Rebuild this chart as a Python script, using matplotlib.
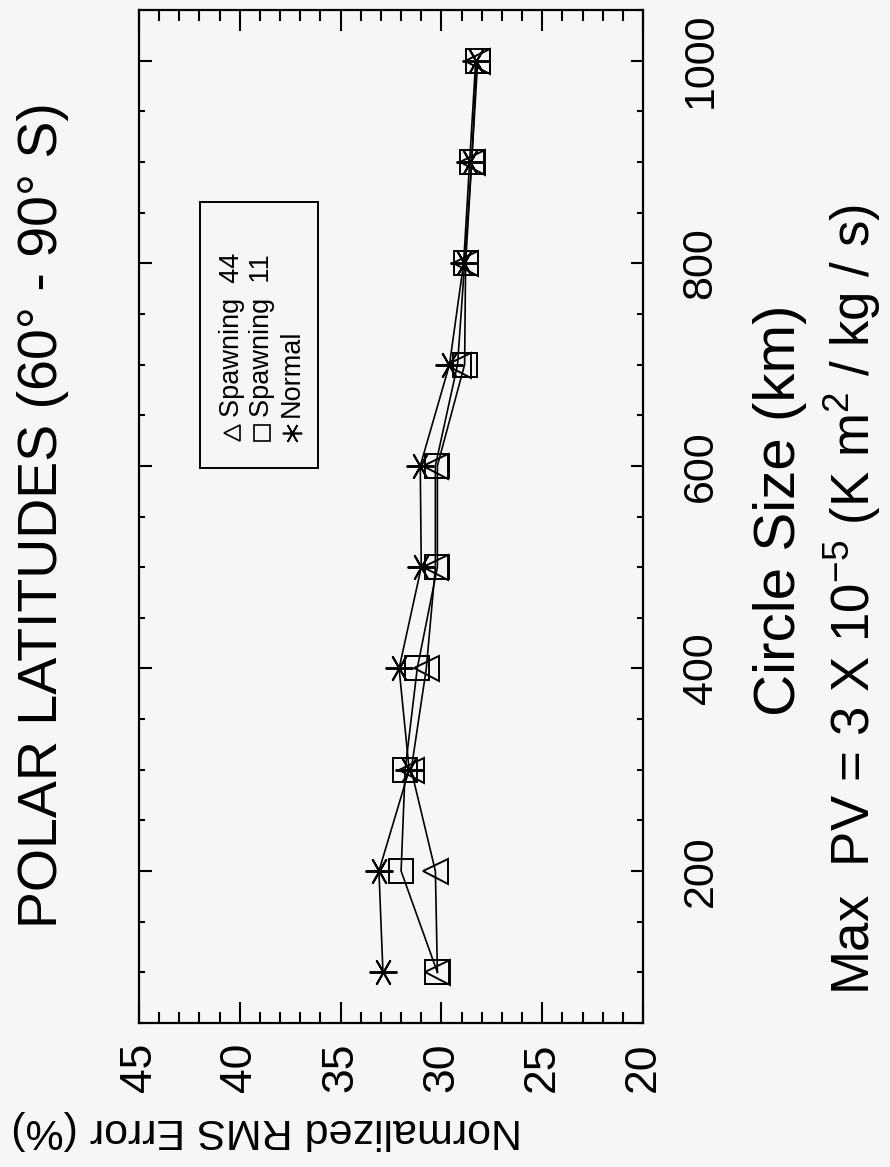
import matplotlib
matplotlib.use('Agg')
import matplotlib.pyplot as plt
from matplotlib.patches import Rectangle
from matplotlib.ticker import MultipleLocator

plt.rcParams['font.family'] = ['Liberation Sans', 'DejaVu Sans']
plt.rcParams['mathtext.default'] = 'regular'

# circle size (km) and normalized rms error (%) for each run
sizes = [100, 200, 300, 400, 500, 600, 700, 800, 900, 1000]
normal = [32.9, 33.1, 31.6, 32.1, 31.0, 31.05, 29.6, 28.9, 28.6, 28.3]
spawn11 = [30.2, 32.0, 31.8, 31.2, 30.2, 30.2, 28.85, 28.8, 28.5, 28.2]
spawn44 = [30.2, 30.3, 31.5, 30.75, 30.3, 30.3, 29.2, 28.85, 28.5, 28.25]

labels = ['Spawning  44', 'Spawning  11', 'Normal']
size_ticks = [200, 400, 600, 800, 1000]

bg = '#f6f6f6'
asterisk = (6, 2, 90)

# page is laid out sideways: error runs across, circle size runs up
fig = plt.figure(figsize=(8.9, 11.67), dpi=100, facecolor=bg)
ax = fig.add_axes([0.1562, 0.1234, 0.5663, 0.868])
ax.set_facecolor(bg)

style = dict(color='k', lw=1.2, mfc='none', mec='k', mew=1.4)
ax.plot(spawn44, sizes, marker='<', ms=18, **style)
ax.plot(spawn11, sizes, marker='s', ms=17.5, **style)
ax.plot(normal, sizes, marker=asterisk, ms=20, **style)

ax.set_xlim(45, 20)
ax.set_ylim(50, 1050)
ax.xaxis.set_major_locator(MultipleLocator(5))
ax.xaxis.set_minor_locator(MultipleLocator(1))
ax.set_yticks(size_ticks)
ax.yaxis.set_minor_locator(MultipleLocator(50))

ax.tick_params(which='both', direction='in', top=True, bottom=True,
               left=True, right=True, labelleft=False, labelright=True)
ax.tick_params(axis='x', which='major', length=15, width=1.5,
               labelsize=32, labelrotation=90, pad=14)
ax.tick_params(axis='x', which='minor', length=8, width=1.5)
ax.tick_params(axis='y', which='major', length=9, width=1.5,
               labelsize=31, labelrotation=90, pad=27)
ax.tick_params(axis='y', which='minor', length=4.5, width=1.5)
for lbl in ax.get_yticklabels():
    lbl.set_va('center')
for sp in ax.spines.values():
    sp.set_linewidth(1.6)

# legend box, drawn by hand so the text can run sideways
ax.add_patch(Rectangle((0.121, 0.5479), 0.234, 0.2626, transform=ax.transAxes,
                       fill=False, lw=1.4, ec='k'))
leg_x = [0.185, 0.244, 0.303]
leg_marks = [('<', 12), ('s', 12), (asterisk, 14)]
for xpos, (m, ms), lab in zip(leg_x, leg_marks, labels):
    ax.plot([xpos], [0.5824], marker=m, ms=ms, mfc='none', mec='k', mew=1.2,
            transform=ax.transAxes, clip_on=False)
    ax.text(xpos, 0.598, lab, transform=ax.transAxes, rotation=90,
            ha='center', va='bottom', fontsize=19.5)

fig.text(0.0483, 0.5587, 'POLAR LATITUDES (60° - 90° S)', rotation=90,
         ha='center', va='center', fontsize=40)
fig.text(0.8764, 0.563, 'Circle Size (km)', rotation=90,
         ha='center', va='center', fontsize=42)
fig.text(0.958, 0.4859, 'Max  PV = 3 X 10$^{-5}$ (K m$^2$ / kg / s)',
         rotation=90, ha='center', va='center', fontsize=38)
fig.text(0.30, 0.0317, 'Normalized RMS Error (%)', rotation=180,
         ha='center', va='center', fontsize=31)

fig.savefig('out.png', dpi=100, facecolor=fig.get_facecolor())
